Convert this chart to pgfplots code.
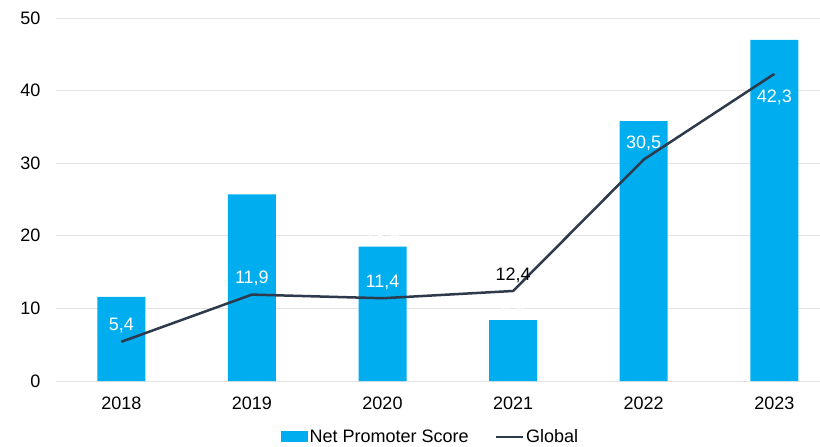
\documentclass[border=0pt]{standalone}
\usepackage{pgfplots}
\pgfplotsset{compat=1.18}
\usepackage{fontspec}
\setmainfont{Liberation Sans}
\definecolor{barblue}{HTML}{00ADEF}
\definecolor{linenavy}{HTML}{2D3A4C}
\definecolor{gridgray}{HTML}{E3E3E3}
\begin{document}
\begin{tikzpicture}[font=\fontsize{18bp}{21bp}\selectfont]
\begin{axis}[
  at={(0,0)}, anchor=south west,
  scale only axis, width=764bp, height=363bp,
  xmin=-0.5, xmax=5.35, ymin=0, ymax=50,
  /pgf/number format/assume math mode=true,
  axis line style={draw=none},
  major tick length=0pt,
  ytick={0,10,...,50},
  ymajorgrids, grid style={gridgray, line width=0.9bp},
  xtick={0,...,5}, xticklabels={2018,2019,2020,2021,2022,2023},
  yticklabel style={xshift=-12bp},
  xticklabel style={yshift=-12bp},
  legend style={at={(0.49,-0.154)}, anchor=center, draw=none, fill=none,
    legend columns=2, /tikz/every even column/.append style={column sep=24bp},
    nodes={inner sep=2bp}},
]
\addplot[ybar, bar width=48bp, fill=barblue, draw=none,
  nodes near coords={\pgfmathprintnumber[fixed,fixed zerofill,precision=1,use comma,assume math mode=true]{\pgfplotspointmeta}},
  every node near coord/.append style={white, yshift=-2bp},
  legend image code/.code={\fill[barblue] (0bp,-5.5bp) rectangle (27bp,5.5bp);}]
  coordinates {(0,11.6) (1,25.7) (2,18.5) (3,8.4) (4,35.8) (5,47.0)};
\addlegendentry{Net Promoter Score}
\addplot[linenavy, line width=2.5bp, mark=none,
  legend image code/.code={\draw[linenavy, line width=2.5bp] (0bp,0bp) -- (27bp,0bp);}]
  coordinates {(0,5.4) (1,11.9) (2,11.4) (3,12.4) (4,30.5) (5,42.3)};
\addlegendentry{Global}
\addplot[draw=none, mark=none, forget plot,
  nodes near coords={\pgfmathprintnumber[fixed,fixed zerofill,precision=1,use comma,assume math mode=true]{\pgfplotspointmeta}},
  every node near coord/.append style={white, anchor=south, yshift=5bp}]
  coordinates {(0,5.4) (1,11.9) (2,11.4) (4,30.5)};
\addplot[draw=none, mark=none, forget plot,
  nodes near coords={\pgfmathprintnumber[fixed,fixed zerofill,precision=1,use comma,assume math mode=true]{\pgfplotspointmeta}},
  every node near coord/.append style={black, anchor=south, yshift=5bp}]
  coordinates {(3,12.4)};
\addplot[draw=none, mark=none, forget plot,
  nodes near coords={\pgfmathprintnumber[fixed,fixed zerofill,precision=1,use comma,assume math mode=true]{\pgfplotspointmeta}},
  every node near coord/.append style={white, anchor=north, yshift=-13bp}]
  coordinates {(5,42.3)};
\end{axis}
\pgfresetboundingbox
\path[use as bounding box] (-56bp,-66bp) rectangle (764bp,381bp);
\end{tikzpicture}
\end{document}
